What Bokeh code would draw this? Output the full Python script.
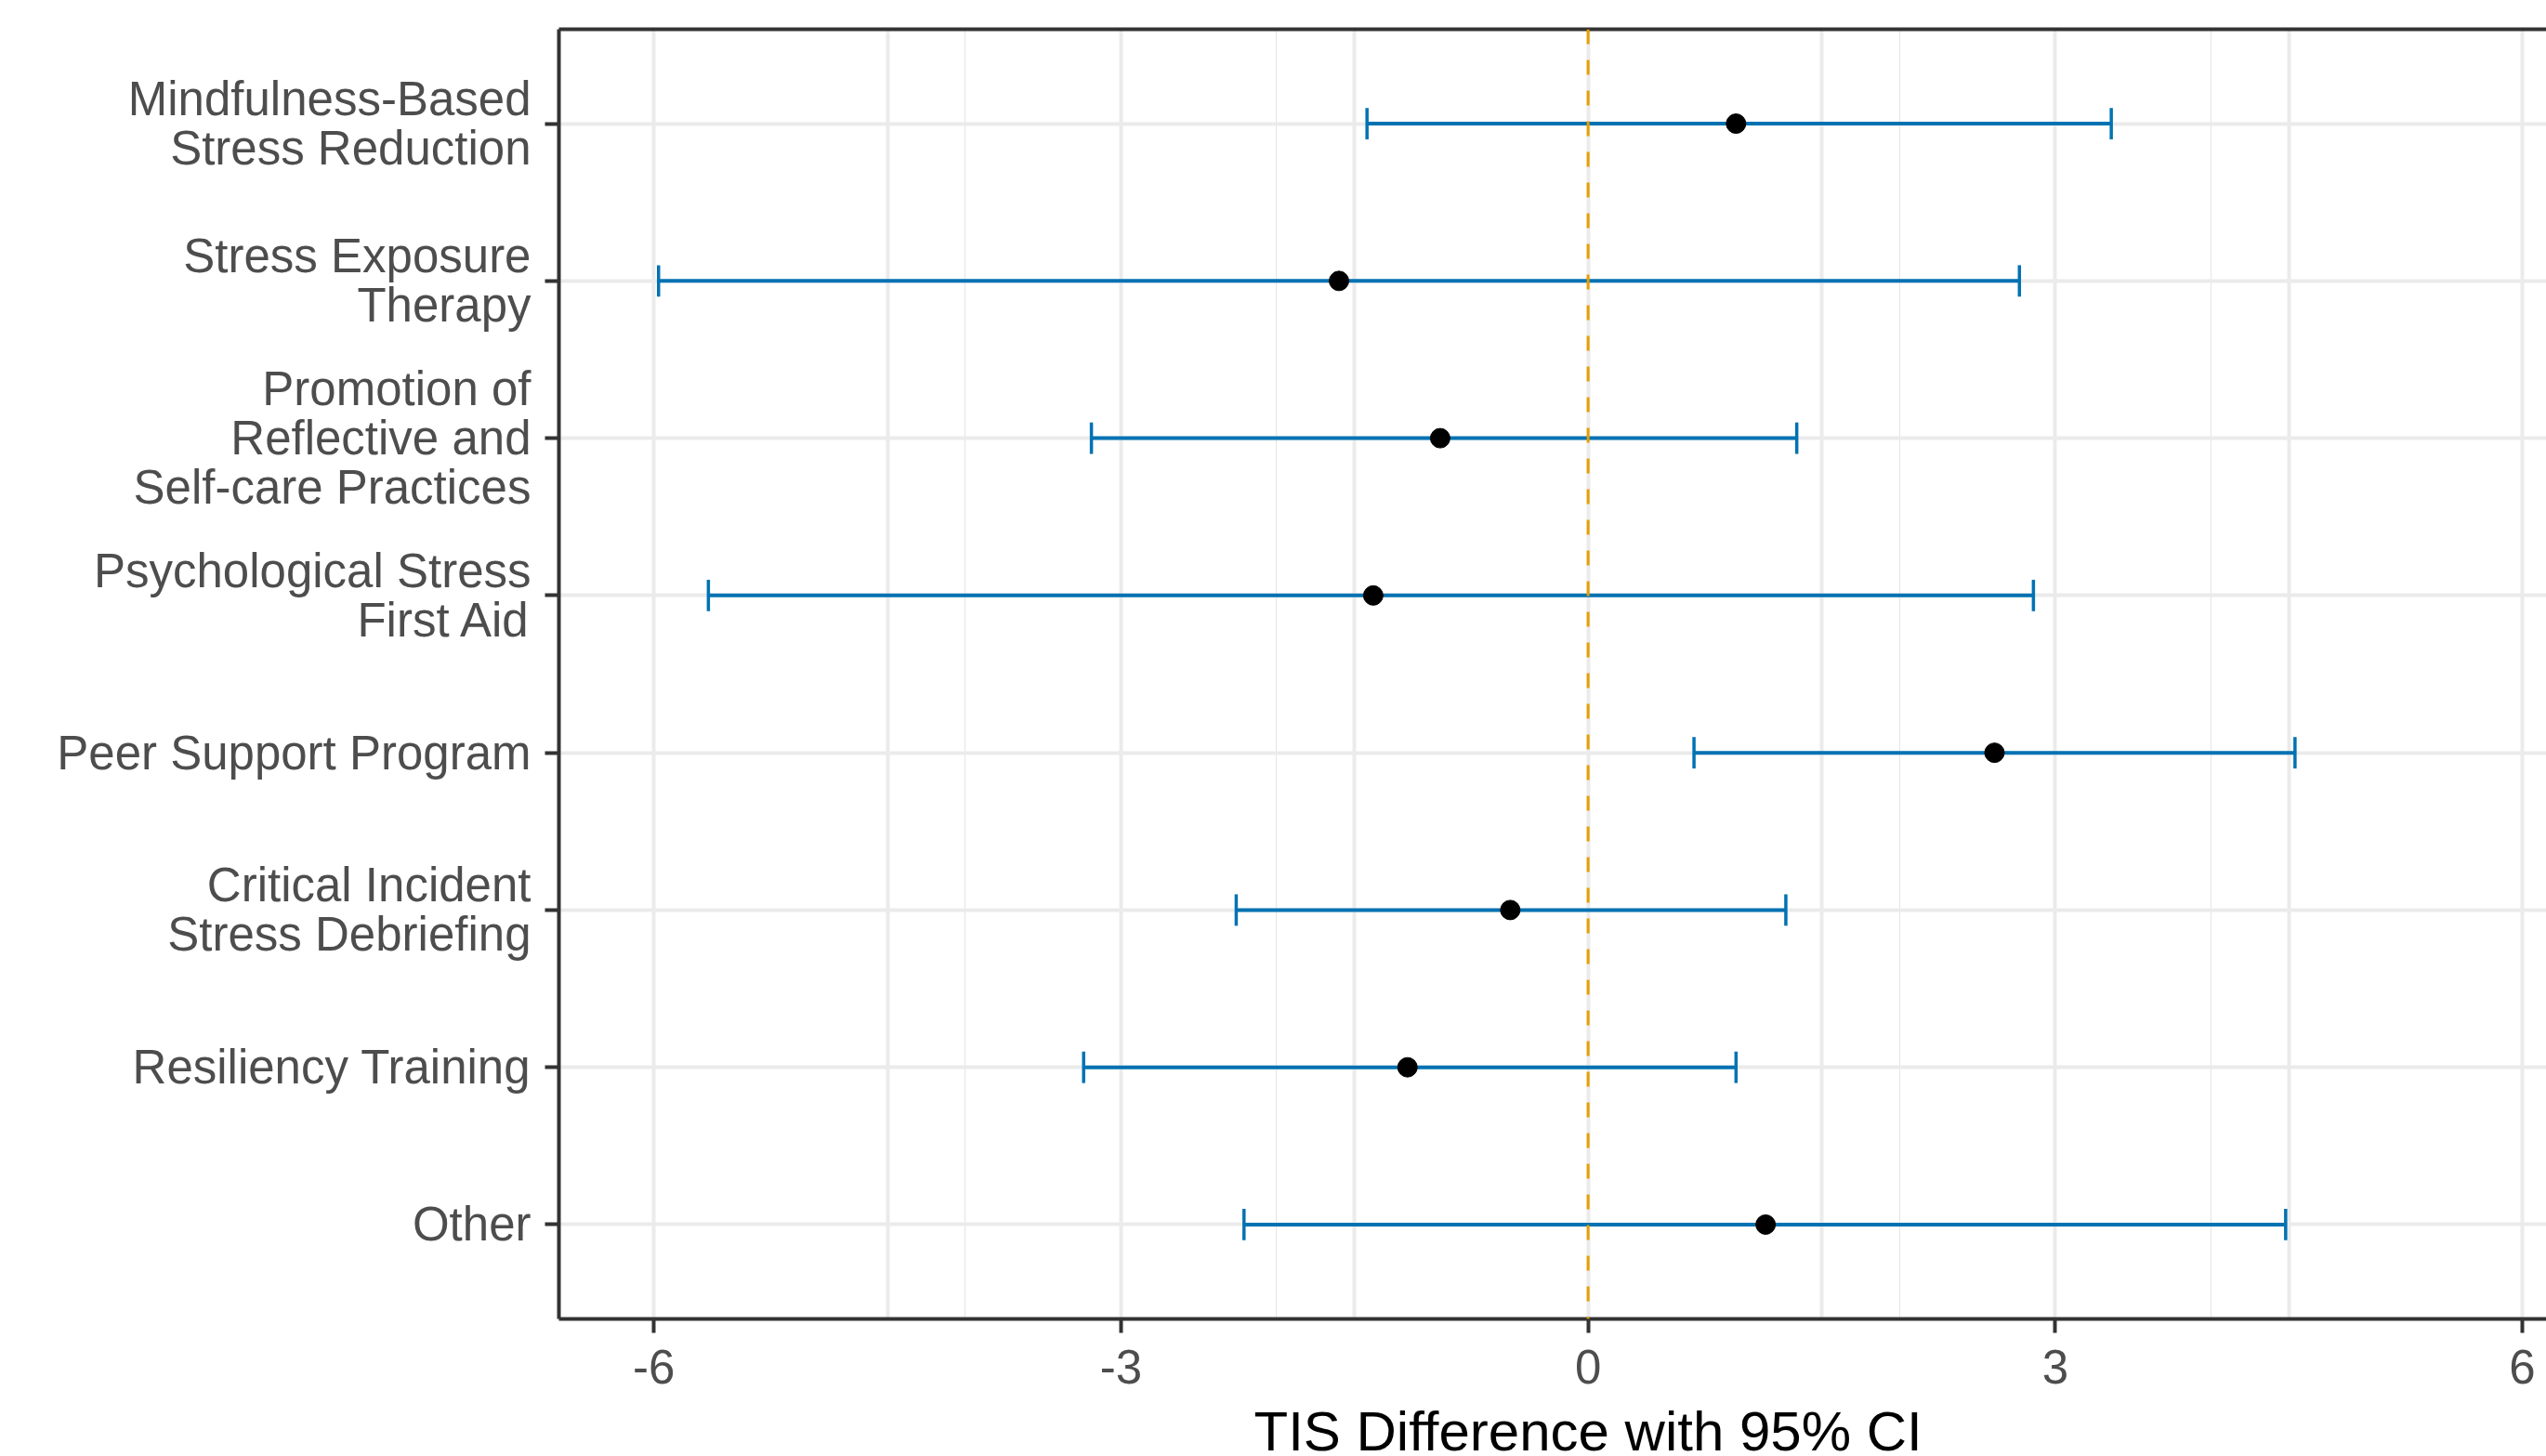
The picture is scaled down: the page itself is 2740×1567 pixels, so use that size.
from bokeh.plotting import figure
from bokeh.models import Range1d, FixedTicker, LinearAxis, Span, Title, ColumnDataSource, Grid
from bokeh.embed import file_html
from bokeh.resources import INLINE

# ---- data ----
categories = [
    "Mindfulness-Based\nStress Reduction",
    "Stress Exposure\nTherapy",
    "Promotion of\nReflective and\nSelf-care Practices",
    "Psychological Stress\nFirst Aid",
    "Peer Support Program",
    "Critical Incident\nStress Debriefing",
    "Resiliency Training",
    "Other",
]
estimate = [0.95, -1.60, -0.95, -1.38, 2.61, -0.50, -1.16, 1.14]
lower = [-1.42, -5.97, -3.19, -5.65, 0.68, -2.26, -3.24, -2.21]
upper = [3.36, 2.77, 1.34, 2.86, 4.54, 1.27, 0.95, 4.48]
x_ticks = [-6, -3, 0, 3, 6]
x_minor_ticks = [-4.5, -1.5, 1.5, 4.5]
x_title = "TIS Difference with 95% CI"

n = len(categories)
ypos = [n - i for i in range(n)]
cap = 0.1

src = ColumnDataSource(dict(
    y=ypos, est=estimate, lo=lower, hi=upper,
    ylo=[v - cap for v in ypos], yhi=[v + cap for v in ypos],
))

FONT = "Liberation Sans"
TXT = "#4D4D4D"
AX = "#333333"
GRID = "#EBEBEB"

X0, X1 = -6.61, 6.155
LEFT = 601

p = figure(
    width=2740, height=1567,
    x_range=Range1d(X0, X1), y_range=Range1d(0.4, n + 0.6),
    output_backend="svg", toolbar_location=None,
    min_border_left=LEFT, min_border_top=31, min_border_right=0, min_border_bottom=148,
    x_axis_location=None, y_axis_location=None,
)
p.outline_line_color = None
p.background_fill_color = "white"
p.border_fill_color = "white"

# axes
xaxis = LinearAxis(ticker=FixedTicker(ticks=x_ticks, minor_ticks=x_minor_ticks))
xaxis.major_label_overrides = {t: str(t) for t in x_ticks}
yaxis = LinearAxis(ticker=FixedTicker(ticks=ypos))
yaxis.major_label_overrides = {ypos[i]: categories[i] for i in range(n)}
for ax in (xaxis, yaxis):
    ax.axis_line_color = AX
    ax.axis_line_width = 4
    ax.major_tick_line_color = AX
    ax.major_tick_line_width = 4
    ax.major_tick_out = 15
    ax.major_tick_in = 0
    ax.minor_tick_line_color = None
    ax.major_label_text_font = FONT
    ax.major_label_text_font_size = "51px"
    ax.major_label_text_color = TXT
xaxis.major_label_standoff = 18
yaxis.major_label_standoff = 15
yaxis.major_label_text_line_height = 0.93
p.add_layout(xaxis, "below")
p.add_layout(yaxis, "left")

# invisible spacer (white tick, empty label) between tick labels and axis title
sp_at = X0 + 0.01
spacer = LinearAxis(ticker=FixedTicker(ticks=[sp_at]))
spacer.major_label_overrides = {sp_at: ""}
spacer.axis_line_color = None
spacer.major_tick_line_color = "white"
spacer.major_tick_line_width = 1
spacer.minor_tick_line_color = None
spacer.major_tick_out = 21
spacer.major_tick_in = 0
spacer.minor_tick_out = 0
spacer.major_label_standoff = 0
spacer.major_label_text_font_size = "1px"
p.add_layout(spacer, "below")

top = LinearAxis(ticker=FixedTicker(ticks=[]))
top.axis_line_color = AX
top.axis_line_width = 4
top.major_tick_line_color = None
top.minor_tick_line_color = None
top.major_label_text_font_size = "0px"
p.add_layout(top, "above")

# x-axis title, centred on x = 0 like the original (uncropped) panel
frame_w = 2740 - LEFT
px_per_unit = frame_w / (X1 - X0)
title_w = 720
xt = Title(text=x_title, align="left", vertical_align="bottom",
           offset=int(round((0 - X0) * px_per_unit - title_w / 2)),
           text_font=FONT, text_font_size="60px", text_font_style="normal",
           text_color="black", standoff=-16)
p.add_layout(xt, "below")

# grids
xg = Grid(dimension=0, ticker=xaxis.ticker)
xg.grid_line_color = GRID
xg.grid_line_width = 4
xg.minor_grid_line_color = GRID
xg.minor_grid_line_width = 4
yg = Grid(dimension=1, ticker=yaxis.ticker)
yg.grid_line_color = GRID
yg.grid_line_width = 4
p.add_layout(xg)
p.add_layout(yg)

# error bars
BLUE = "#0072B2"
p.segment(x0="lo", x1="hi", y0="y", y1="y", source=src, line_color=BLUE, line_width=4)
p.segment(x0="lo", x1="lo", y0="ylo", y1="yhi", source=src, line_color=BLUE, line_width=3.5)
p.segment(x0="hi", x1="hi", y0="ylo", y1="yhi", source=src, line_color=BLUE, line_width=3.5)

p.add_layout(Span(location=0, dimension="height", line_color="#E69F00",
                  line_dash="16 17", line_width=3))

p.scatter(x="est", y="y", source=src, size=21, color="black")

open("out.html", "w").write(file_html(p, INLINE))
